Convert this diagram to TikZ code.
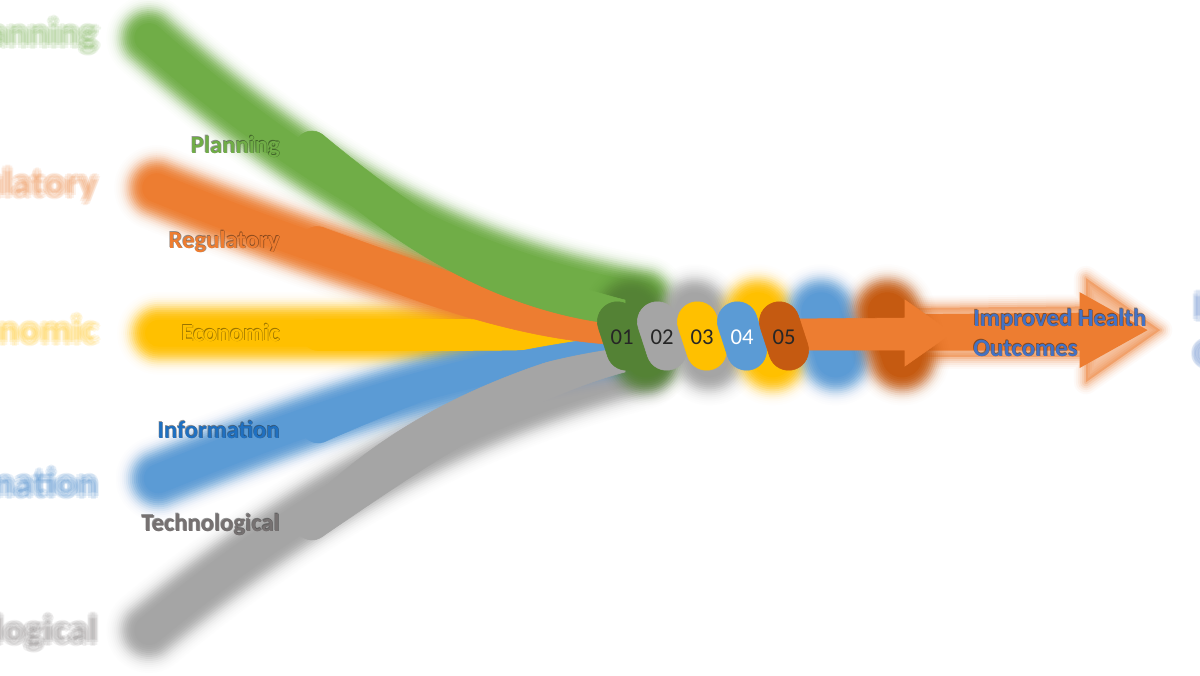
\documentclass[tikz,border=0pt]{standalone}
\usepackage{fontspec}
\setmainfont{Carlito}
\definecolor{cgreen}{HTML}{70AD47}
\definecolor{corange}{HTML}{ED7D31}
\definecolor{cyellow}{HTML}{FFC000}
\definecolor{cblue}{HTML}{5B9BD5}
\definecolor{cgray}{HTML}{A5A5A5}
\definecolor{cdkgreen}{HTML}{548235}
\definecolor{cdkorange}{HTML}{C55A11}
\definecolor{cinfo}{HTML}{1F70C1}
\definecolor{ctech}{HTML}{767171}
\definecolor{cout}{HTML}{4472C4}
\definecolor{cnum}{HTML}{262626}
\tikzset{
  sh/.style={fill=#1, draw=#1},
  lab/.style={font=\fontsize{18.5}{22}\selectfont\bfseries, anchor=base east, inner sep=0pt},
  num/.style={font=\fontsize{17}{20}\selectfont, anchor=base, inner sep=0pt, text=cnum},
  outc/.style={font=\fontsize{18.6}{22.5}\selectfont\bfseries, anchor=west, align=left, inner sep=0pt, text=cout}
}
% ---------- sharp foreground shapes ----------
\newcommand\pill[3]{%
  \path[sh=#3, shift={(#1,#2)}, rotate=18] (-20,-15) arc[start angle=180,end angle=360,radius=20]
    -- (20,15) arc[start angle=0,end angle=180,radius=20] -- cycle;}
\newcommand\allshapes{%
  \path[sh=cgray] (312,523) circle[radius=17];
  \path[sh=cgray] (301.4,509.7) .. controls (380,430) and (480,375) .. (625,340) -- (625,372)
     .. controls (520,400) and (420,470) .. (322.6,536.3) -- cycle;
  \path[sh=cyellow] (318,335) circle[radius=15.5];
  \path[sh=cyellow] (318,319.5) -- (470,319.5) .. controls (540,321) .. (625,330) -- (625,342)
     .. controls (540,350) .. (470,350.5) -- (318,350.5) -- cycle;
  \path[sh=cblue] (318,427) circle[radius=16];
  \path[sh=cblue] (312.4,412) .. controls (400,380) and (490,350) .. (625,335) -- (625,347)
     .. controls (520,360) and (420,400) .. (323.6,442) -- cycle;
  \path[sh=corange] (317,243) circle[radius=16.5];
  \path[sh=corange] (322.4,227.4) .. controls (420,262) and (520,300) .. (625,318) -- (625,345)
     .. controls (540,342) and (440,315) .. (311.6,258.6) -- cycle;
  \path[sh=cgreen] (312,148) circle[radius=17];
  \path[sh=cgreen] (322.7,134.8) .. controls (420,215) and (500,268) .. (625,300) -- (625,325)
     .. controls (510,315) and (400,255) .. (301.3,161.2) -- cycle;
  \path[sh=corange] (790,319) -- (905,318) -- (905,300) -- (952,333) -- (905,366) -- (905,350) -- (790,350) -- cycle;
  \pill{622}{336}{cdkgreen}
  \pill{662}{336}{cgray}
  \pill{702}{336}{cyellow}
  \pill{742}{336}{cblue}
  \pill{784}{336}{cdkorange}
}
\newcommand\labeltexts[2]{%
  \node[lab, text=cgreen, #2] (#1planning) at (280,153) {Planning};
  \node[lab, text=corange, #2] (#1regulatory) at (280,248) {Regulatory};
  \node[lab, text=cyellow, #2] (#1economic) at (280,341) {Economic};
  \node[lab, text=cinfo, #2] (#1information) at (280,438) {Information};
  \node[lab, text=ctech, #2] (#1technological) at (280,531) {Technological};
  \node[outc, #2] (#1outcome) at (973,332.5) {Improved Health\\Outcomes};
}
% ---------- blurred strokes for the background copy (gaussian-like profile) ----------
\newcommand\bstroke[3]{%
  \foreach \dw/\op in {24/0.012,21/0.014,18/0.024,15/0.042,12/0.064,9/0.094,6/0.128,3/0.169,
                       0/0.214,-3/0.259,-6/0.304,-9/0.352,-12/0.395,-15/0.449,-18/1}{%
    \pgfmathsetmacro\lw{#2+\dw}%
    \draw[#1, line width=\lw pt, draw opacity=\op, line cap=round, line join=round] #3;}}
\begin{document}
\begin{tikzpicture}[x=0.75pt, y=-0.75pt]
  \useasboundingbox (0,0) rectangle (1200,675);
  \fill[white] (0,0) rectangle (1200,675);
  \clip (0,0) rectangle (1200,675);
  % blurred, enlarged background copy
  \begin{scope}[shift={(593,338)}, scale=1.58, shift={(-593,-338)}, transform shape]
    \bstroke{cgray}{40}{(312,523) .. controls (400,450) and (500,387.5) .. (625,356)}
    \bstroke{cyellow}{38}{(318,335) -- (470,335) -- (625,336)}
    \bstroke{cblue}{40}{(318,427) .. controls (410,390) and (505,355) .. (625,341)}
    \bstroke{corange}{40}{(317,243) .. controls (430,288.5) and (530,321) .. (625,331.5)}
    \bstroke{cgreen}{40}{(312,148) .. controls (410,235) and (505,291.5) .. (625,312.5)}
    \foreach \dw/\op in {18/0.03,15/0.05,12/0.07,9/0.1,6/0.14,3/0.2}{%
      \draw[corange, line width=\dw pt, draw opacity=\op, line join=round]
        (790,319) -- (905,318) -- (905,300) -- (952,333) -- (905,366) -- (905,350) -- (790,350) -- cycle;}
    \fill[corange, fill opacity=0.45] (790,319) -- (905,318) -- (905,300) -- (952,333) -- (905,366) -- (905,350) -- (790,350) -- cycle;
    \fill[corange] (794,323) -- (901,322) -- (901,309) -- (944,333) -- (901,357) -- (901,346) -- (794,346) -- cycle;
    \bstroke{cdkgreen, shift={(622,336)}, rotate=18}{48}{(0,-15) -- (0,15)}
    \bstroke{cgray, shift={(662,336)}, rotate=18}{48}{(0,-15) -- (0,15)}
    \bstroke{cyellow, shift={(702,336)}, rotate=18}{48}{(0,-15) -- (0,15)}
    \bstroke{cblue, shift={(742,336)}, rotate=18}{48}{(0,-15) -- (0,15)}
    \bstroke{cdkorange, shift={(784,336)}, rotate=18}{48}{(0,-15) -- (0,15)}
    \labeltexts{bga}{opacity=0.1, xshift=1.6pt}
    \labeltexts{bgb}{opacity=0.1, xshift=-1.6pt}
    \labeltexts{bgc}{opacity=0.1, yshift=1.6pt}
    \labeltexts{bgd}{opacity=0.1, yshift=-1.6pt}
    \labeltexts{bge}{opacity=0.1, xshift=1.1pt, yshift=1.1pt}
    \labeltexts{bgf}{opacity=0.1, xshift=-1.1pt, yshift=-1.1pt}
    \labeltexts{bgg}{opacity=0.1, xshift=1.1pt, yshift=-1.1pt}
    \labeltexts{bgh}{opacity=0.1, xshift=-1.1pt, yshift=1.1pt}
  \end{scope}
  % sharp foreground
  \allshapes
  \labeltexts{sha}{text=black, opacity=0.4, xshift=0.45pt, yshift=-0.45pt}
  \labeltexts{shb}{text=black, opacity=0.4, xshift=-0.45pt, yshift=0.45pt}
  \labeltexts{}{}
  \node[num] (n1) at (622,344) {01};
  \node[num] (n2) at (662,344) {02};
  \node[num] (n3) at (702,344) {03};
  \node[num, text=white] (n4) at (742,344) {04};
  \node[num] (n5) at (784,344) {05};
\end{tikzpicture}
\end{document}
